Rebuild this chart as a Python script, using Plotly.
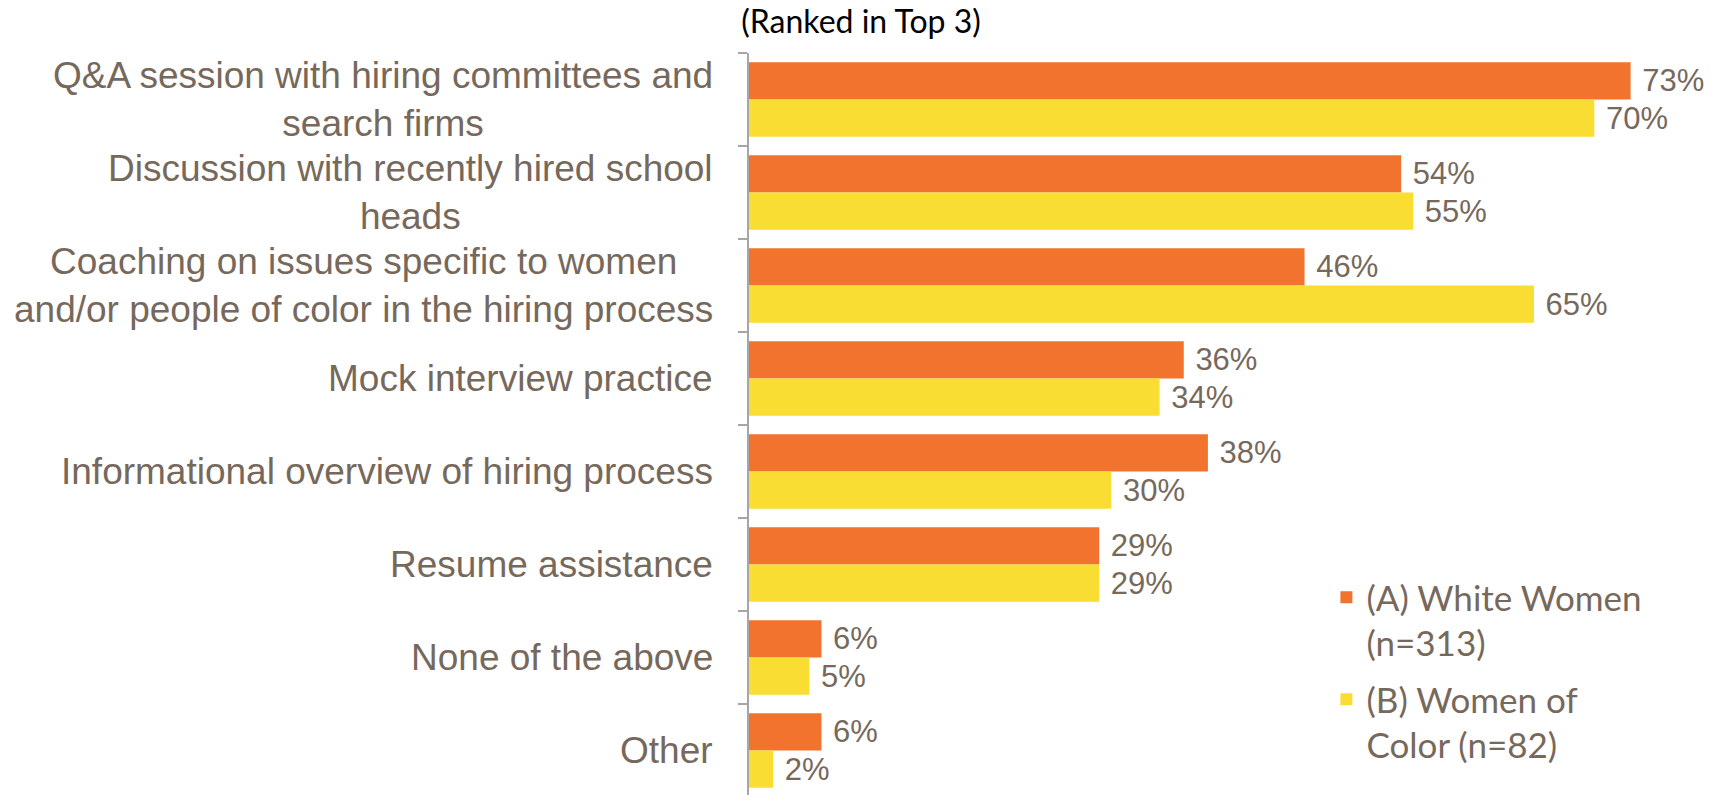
import plotly.graph_objects as go

categories = [
    "Q&A session with hiring committees and<br>search firms",
    "Discussion with recently hired school<br>heads",
    "Coaching on issues specific to women<br>and/or people of color in the hiring process",
    "Mock interview practice",
    "Informational overview of hiring process",
    "Resume assistance",
    "None of the above",
    "Other",
]
white_women = [73, 54, 46, 36, 38, 29, 6, 6]
women_of_color = [70, 55, 65, 34, 30, 29, 5, 2]
series_names = ["(A) White Women<br>(n=313)", "(B) Women of<br>Color (n=82)"]
title_text = "(Ranked in Top 3)"

ORANGE = "#F1732D"
YELLOW = "#FADD33"
GRAY = "#76695C"
AXIS = "#A6A6A6"

fig = go.Figure()
for i, (vals, name, col) in enumerate([(white_women, series_names[0], ORANGE),
                                       (women_of_color, series_names[1], YELLOW)]):
    fig.add_trace(go.Bar(
        y=categories, x=vals, name=name, orientation="h",
        legendgroup=f"g{i}",
        marker=dict(color=col, line=dict(width=0)),
        texttemplate="\u00a0%{x}%", textposition="outside",
        textfont=dict(family="Liberation Sans, Arial", size=31, color=GRAY),
        constraintext="none", cliponaxis=False,
    ))

for cat in categories:
    fig.add_annotation(
        x=0, y=cat, xref="x", yref="y", text=cat, showarrow=False,
        xanchor="right", yanchor="middle", align="center", xshift=-34,
        font=dict(family="Liberation Sans, Arial", size=37, color=GRAY),
    )

fig.update_layout(
    width=1718, height=787,
    margin=dict(l=741, r=0, t=45, b=0),
    paper_bgcolor="white", plot_bgcolor="white",
    barmode="group", bargap=0.2, bargroupgap=0,
    showlegend=True,
    title=dict(text=title_text, x=0.4965, xanchor="center", y=0.997, yanchor="top",
               yref="container",
               font=dict(family="Lato", size=32, color="black")),
    legend=dict(x=0.591, y=0.306, xanchor="left", yanchor="top",
                valign="top", traceorder="grouped",
                font=dict(family="Lato", size=35, color=GRAY),
                bgcolor="rgba(0,0,0,0)", tracegroupgap=8),
    xaxis=dict(range=[0, 80.9], showgrid=False, zeroline=False,
               showticklabels=False, showline=False, ticks=""),
    yaxis=dict(type="category", range=[7.478, -0.5], showgrid=False, zeroline=False,
               showticklabels=False, showline=True, linecolor=AXIS, linewidth=1.5,
               ticks="outside", tickson="boundaries", ticklen=9, tickcolor=AXIS,
               tickwidth=1.5),
)

fig.write_html("out.html")
